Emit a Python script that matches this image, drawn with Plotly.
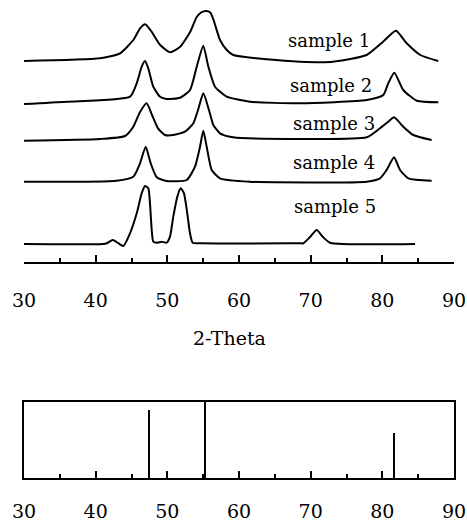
import plotly.graph_objects as go
from plotly.subplots import make_subplots

# ---- data ----
s1_theta = [30.0, 40.6, 43.4, 45.25, 46.2, 46.9, 47.8, 49.0, 50.4, 51.8, 53.2, 54.1, 54.7, 55.4, 56.0, 56.5,
            57.35, 58.3, 59.2, 63.9, 68.5, 73.1, 77.8, 80.1, 81.9, 83.4, 85.3, 87.8]
s1_int = [0, 2.7, 7.7, 21, 32.7, 36.7, 29.3, 16, 8.7, 14.3, 29.3, 44, 48.5, 50, 48.5, 40,
          21, 11, 6, 1.7, -0.7, -0.7, 6, 19.3, 30.3, 17.7, 6, 0]

s2_theta = [30.0, 35.96, 44.79, 45.73, 46.42, 46.88, 47.34, 48.04, 48.98, 49.91, 51.77, 53.17, 54.1, 55.02,
            55.72, 56.65, 58.28, 61.53, 68.51, 77.82, 80.13, 80.83, 81.67, 82.92, 84.8, 87.81]
s2_int = [0, 2.3, 7.3, 20.7, 37.3, 43, 35.7, 17.3, 7.3, 5, 6.3, 14, 37.3, 58.3,
          37.3, 17.3, 7.3, 2.3, 0.7, 4, 9, 20.7, 31.3, 14, 3.3, 1.7]

s3_theta = [30.0, 40.6, 44.09, 45.25, 46.19, 47.12, 47.86, 48.7, 49.67, 50.83, 52.47, 53.63, 54.28, 55.02,
            55.81, 56.42, 57.35, 59.16, 68.51, 77.82, 79.67, 80.79, 81.63, 82.92, 84.32, 86.88]
s3_int = [0, 1.7, 4.7, 14, 28.7, 37.4, 25.7, 12.4, 5.7, 5.7, 9, 17.4, 30.7, 47.4,
          30.7, 15.7, 7.4, 3.4, 1.7, 3.4, 12.4, 18.7, 23.4, 14, 5.7, 0.7]

s4_theta = [30.0, 42.93, 45.25, 46.19, 46.98, 47.68, 48.52, 49.91, 52.7, 53.86, 54.56, 55.02, 55.49, 56.19,
            57.35, 61.53, 77.82, 79.67, 80.6, 81.63, 82.47, 83.62, 86.88]
s4_int = [0, 1, 5, 18.4, 35, 18.4, 4.4, 0.7, 1.7, 15, 35, 51, 35, 11.7,
          3.4, 0, 0, 3.4, 11.7, 24.4, 11.7, 3.4, 1]

s5_theta = [30.0, 41.07, 41.54, 42.38, 43.12, 43.86, 44.79, 45.73, 46.42, 46.88, 47.34, 47.58, 47.82, 48.04,
            48.52, 49.21, 49.91, 50.37, 50.83, 51.39, 51.86, 52.32, 52.78, 53.16, 53.53, 54.56, 68.51,
            68.98, 69.91, 70.84, 71.72, 72.7, 84.56]
s5_int = [0, 0, 0.7, 4, 1, -2, 10.7, 30.7, 50.7, 58, 55.7, 40.7, 14, 2.3,
          1.3, 2.3, 1.3, 7.3, 27.3, 47.3, 55.7, 50.7, 30.7, 10.7, 1.3, 0.7, 0.7,
          0.7, 7, 14, 7, 1.3, 0]

sample_names = ["sample 1", "sample 2", "sample 3", "sample 4", "sample 5"]
sample_offsets = [201, 158, 121.3, 80.3, 18]
label_x = [72.6, 72.9, 73.2, 73.2, 73.4]
label_y = [222, 177, 139, 99, 55]

ref_theta = [47.5, 55.25, 81.63]
ref_int = [90, 100, 60]

tick_vals = [30, 40, 50, 60, 70, 80, 90]

FONT = "DejaVu Serif"

fig = make_subplots(rows=2, cols=1, shared_xaxes=False, vertical_spacing=0.0)

series = [(s1_theta, s1_int), (s2_theta, s2_int), (s3_theta, s3_int), (s4_theta, s4_int), (s5_theta, s5_int)]
for (tx, iy), off, name in zip(series, sample_offsets, sample_names):
    fig.add_trace(go.Scatter(x=tx, y=[v + off for v in iy], mode="lines", name=name,
                             line=dict(color="black", width=2, shape="spline", smoothing=0.55),
                             showlegend=False), row=1, col=1)

for name, lx, ly in zip(sample_names, label_x, label_y):
    fig.add_annotation(x=lx, y=ly, xref="x", yref="y", text=name, showarrow=False,
                       font=dict(family=FONT, size=18, color="black"), xanchor="center", yanchor="middle")

fig.add_trace(go.Bar(x=ref_theta, y=ref_int, width=0.28, marker=dict(color="black", line=dict(width=0)),
                     showlegend=False), row=2, col=1)

fig.add_annotation(x=58.7, y=0.293, xref="x", yref="paper", text="2-Theta", showarrow=False,
                   font=dict(family=FONT, size=19, color="black"), xanchor="center", yanchor="middle")

axis_common = dict(range=[30, 90], tickmode="array", tickvals=tick_vals, ticks="inside", ticklen=7,
                   tickwidth=1.6, tickcolor="black", showline=True, linecolor="black", linewidth=2,
                   showgrid=False, zeroline=False, automargin=False,
                   tickfont=dict(family=FONT, size=19, color="black"),
                   minor=dict(ticks="inside", ticklen=4, tickwidth=1.6, tickcolor="black", dtick=5, tick0=30))

fig.update_xaxes(**axis_common, ticklabelstandoff=20, row=1, col=1)
fig.update_xaxes(**axis_common, mirror=True, ticklabelstandoff=15, row=2, col=1)
fig.update_yaxes(range=[0, 262], visible=False, row=1, col=1)
fig.update_yaxes(range=[0, 100], showline=True, mirror=True, linecolor="black", linewidth=2,
                 showticklabels=False, ticks="", showgrid=False, zeroline=False, row=2, col=1)

fig.update_layout(
    width=467, height=525,
    margin=dict(l=24, r=13, t=0, b=47, autoexpand=False),
    paper_bgcolor="white", plot_bgcolor="white",
    font=dict(family=FONT, color="black"),
    yaxis=dict(domain=[0.4519, 1.0]),
    yaxis2=dict(domain=[0.0, 0.16]),
    bargap=0,
)

fig.write_html("out.html")
